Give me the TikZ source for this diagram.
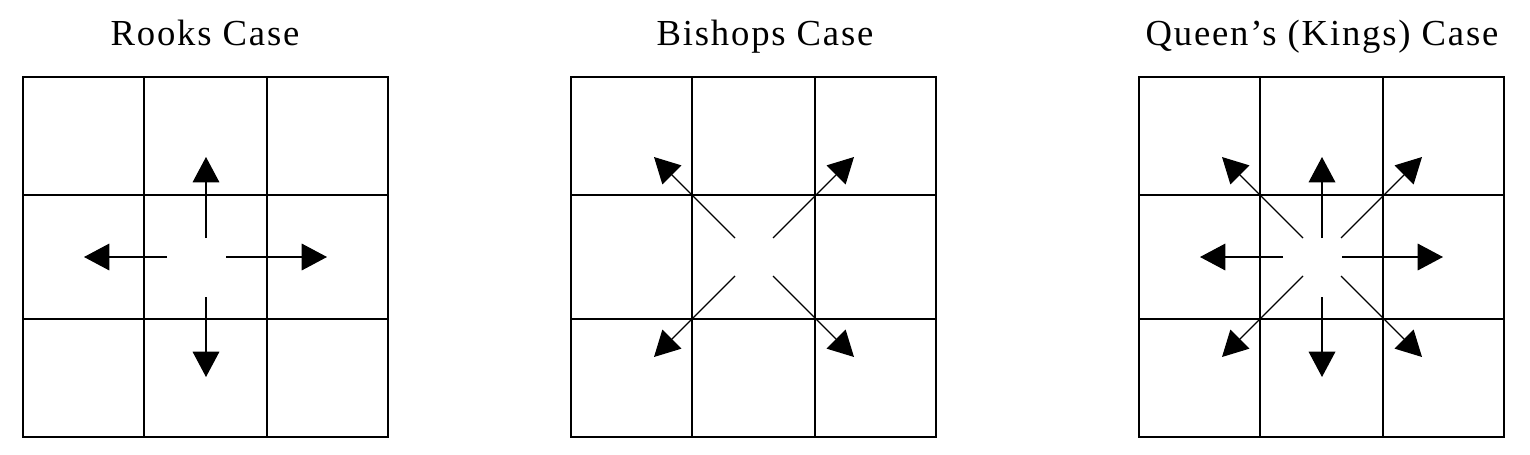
\documentclass[tikz,border=0pt]{standalone}
\usepackage{fontspec}
\setmainfont{Liberation Serif}[LetterSpace=5]
\usetikzlibrary{arrows.meta}
\tikzset{
  title/.style={anchor=base,inner sep=0pt,font=\fontsize{27.5}{32}\selectfont},
  border/.style={line width=1.4pt},
  heavy/.style={line width=2.2pt},
  light/.style={line width=1.1pt},
  move/.style={line width=0.9pt,-{Triangle[length=19pt,width=20pt]}}
}
\begin{document}
\begin{tikzpicture}[x=0.75pt,y=-0.75pt]
  \useasboundingbox (0,0) rectangle (1530,454);
  \fill[white] (0,0) rectangle (1530,454);
  % titles
  \node (rooktitle) at (205,45) [title] {Rooks Case};
  \node (bishoptitle) at (765,45) [title] {Bishops Case};
  \node (queentitle) at (1322,45) [title] {Queen’s (Kings) Case};
  % the three 3x3 grids
  \foreach \gx/\name in {23/rook,571/bishop,1139/queen} {
    \begin{scope}[shift={(\gx,77)}]
      \draw[border] (0,0) rectangle (365,360);
      \draw[heavy] (121,0) -- (121,360);
      \draw[light] (244,0) -- (244,360);
      \draw[heavy] (0,118) -- (365,118);
      \draw[heavy] (0,242) -- (365,242);
      \coordinate (\name) at (183,180);
    \end{scope}
  }
  % straight moves
  \foreach \name in {rook,queen}
    \foreach \sx/\sy/\tx/\ty in {0/-19/0/-100,0/40/0/120,-39/0/-122/0,20/0/121/0}
      \draw[move] ([shift={(\sx,\sy)}]\name) -- ([shift={(\tx,\ty)}]\name);
  % diagonal moves
  \foreach \name in {bishop,queen}
    \foreach \dx/\dy in {-1/-1,1/-1,-1/1,1/1}
      \draw[move] ([shift={(19*\dx,19*\dy)}]\name) -- ([shift={(100*\dx,100*\dy)}]\name);
\end{tikzpicture}
\end{document}
